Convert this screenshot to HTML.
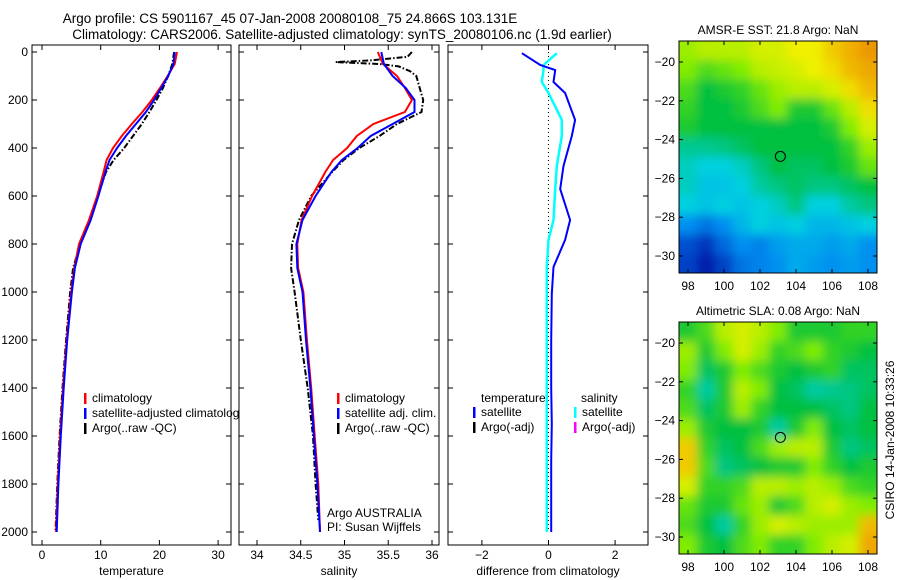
<!DOCTYPE html>
<html><head><meta charset="utf-8"><style>
html,body{margin:0;padding:0;background:#fff;}
svg{display:block;font-family:"Liberation Sans",sans-serif;}
</style></head><body>
<svg id="c" width="900" height="580" viewBox="0 0 900 580" xmlns="http://www.w3.org/2000/svg">
<defs>
<filter id="bl" x="-10%" y="-10%" width="120%" height="120%"><feGaussianBlur stdDeviation="5"/></filter>
<clipPath id="cm1"><rect x="679" y="41" width="198" height="232"/></clipPath>
<clipPath id="cm2"><rect x="679" y="322" width="198" height="232"/></clipPath>
</defs>
<text x="290" y="23" text-anchor="middle" font-size="13.5">Argo profile: CS 5901167_45 07-Jan-2008 20080108_75 24.866S 103.131E</text>
<text x="342" y="39" text-anchor="middle" font-size="13.5">Climatology: CARS2006. Satellite-adjusted climatology: synTS_20080106.nc (1.9d earlier)</text>
</svg>
<script>
// depth grid (m)
const depths=[0,50,100,150,200,250,300,350,400,450,500,600,700,800,900,1000,1200,1400,1600,1800,2000];
const tempClim=[23,22.6,21.4,20.1,18.7,17.1,15.3,13.6,12.1,11.0,10.5,9.4,8.0,6.3,5.5,5.0,4.2,3.6,3.1,2.7,2.4];
const tempSat=[22.6,22.4,21.5,20.3,19.1,17.7,16.0,14.3,12.8,11.5,10.8,9.6,8.3,6.6,5.6,5.1,4.3,3.7,3.2,2.8,2.5];
const tempArgo=[22.5,22.2,21.5,20.6,19.5,18.3,17.0,15.5,14.0,12.2,10.9,9.5,8.1,6.5,5.3,4.8,4.1,3.5,3.0,2.6,2.3];
const salClim=[35.38,35.44,35.6,35.69,35.77,35.69,35.33,35.14,35.03,34.87,34.78,34.63,34.51,34.46,34.47,34.53,34.57,34.62,34.66,34.7,34.72];
const salSat=[35.42,35.45,35.55,35.7,35.8,35.8,35.55,35.3,35.15,34.97,34.85,34.67,34.52,34.45,34.46,34.52,34.56,34.61,34.65,34.69,34.72];
const salArgoDepths=[0,20,35,42,50,60,80,100,150,200,250,300,350,400,450,500,600,700,800,900,1000,1200,1400,1600,1800,1950];
const salArgo=[35.77,35.72,35.3,34.9,35.4,35.62,35.75,35.82,35.86,35.9,35.88,35.6,35.4,35.17,34.99,34.86,34.62,34.48,34.4,34.39,34.43,34.5,34.58,34.64,34.67,34.7];
const diffDepths=[5,54,75,125,171,283,350,475,571,700,783,896,1008,1200,1400,1550,1700,2000];
const diffTemp=[-0.8,-0.25,0.2,0.15,0.5,0.8,0.7,0.45,0.35,0.65,0.5,0.15,0.1,0.08,0.08,0.1,0.08,0.08];
const diffSal=[0.25,-0.15,-0.15,-0.2,0,0.4,0.4,0.25,0.2,0.15,0,-0.05,-0.05,-0.05,-0.05,-0.05,-0.05,-0.05];
const depthTicks=[0,200,400,600,800,1000,1200,1400,1600,1800,2000];
const tempTicks=[0,10,20,30];
const salTicks=[34,34.5,35,35.5,36];
const diffTicks=[-2,0,2];
const latTicks=[-20,-22,-24,-26,-28,-30];
const lonTicks=[98,100,102,104,106,108];
const sst=[
[.72,.74,.74,.74,.76,.76,.78,.78,.82,.85,.88],
[.70,.66,.68,.70,.74,.75,.76,.78,.80,.84,.86],
[.66,.60,.62,.64,.68,.72,.74,.74,.76,.80,.84],
[.64,.60,.60,.62,.66,.70,.62,.62,.68,.74,.80],
[.62,.60,.60,.60,.60,.60,.60,.60,.62,.70,.76],
[.55,.55,.56,.58,.60,.60,.60,.60,.60,.64,.72],
[.52,.50,.50,.52,.56,.60,.58,.58,.60,.62,.68],
[.52,.48,.48,.50,.54,.56,.58,.56,.56,.58,.60],
[.50,.48,.50,.48,.50,.52,.56,.50,.50,.54,.56],
[.40,.36,.40,.46,.50,.48,.50,.46,.46,.48,.50],
[.30,.26,.34,.40,.38,.42,.44,.44,.42,.44,.40],
[.28,.22,.28,.36,.38,.40,.44,.42,.40,.42,.40]];
const sla=[
[.62,.66,.74,.76,.74,.70,.62,.62,.62,.64,.64],
[.72,.62,.70,.76,.72,.64,.66,.70,.64,.62,.60],
[.70,.58,.62,.70,.66,.62,.60,.62,.64,.58,.58],
[.64,.54,.62,.74,.70,.60,.58,.54,.55,.56,.58],
[.66,.58,.62,.72,.64,.60,.60,.60,.58,.56,.60],
[.72,.62,.60,.60,.62,.54,.62,.70,.60,.58,.60],
[.82,.64,.58,.60,.66,.72,.74,.74,.62,.56,.58],
[.82,.66,.56,.58,.60,.62,.62,.70,.64,.60,.62],
[.76,.64,.64,.66,.74,.74,.72,.74,.72,.66,.64],
[.68,.62,.62,.68,.72,.62,.66,.74,.76,.72,.70],
[.66,.60,.54,.64,.72,.76,.74,.72,.72,.72,.84],
[.70,.62,.60,.66,.70,.64,.64,.70,.74,.76,.86]];

const S=document.getElementById('c');
const NS='http://www.w3.org/2000/svg';
function mk(t,a,p){const e=document.createElementNS(NS,t);for(const k in a)e.setAttribute(k,a[k]);(p||S).appendChild(e);return e;}
const yD=d=>52+d*0.24;
const topY=45,botY=545;
function panel(x0,x1,xs,ticks,fmt,label,name){
  const g=mk('g',{});
  
  
  mk('rect',{x:x0,y:topY,width:x1-x0,height:botY-topY,fill:'#fff',stroke:'#000','stroke-width':1},g);
  ticks.forEach(v=>{const x=xs(v);
    mk('line',{x1:x,x2:x,y1:topY,y2:topY+5,stroke:'#000'},g);
    mk('line',{x1:x,x2:x,y1:botY,y2:botY-5,stroke:'#000'},g);
    const t=mk('text',{x:x,y:botY+14,'text-anchor':'middle','font-size':12},g);t.textContent=fmt(v);
    
    });
  depthTicks.forEach(d=>{const y=yD(d);
    mk('line',{x1:x0,x2:x0+5,y1:y,y2:y,stroke:'#000'},g);
    mk('line',{x1:x1,x2:x1-5,y1:y,y2:y,stroke:'#000'},g);});
  const l=mk('text',{x:(x0+x1)/2,y:575,'text-anchor':'middle','font-size':12},g);l.textContent=label;
  
  
  return g;
}
function line(xs,vals,ds,col,w,dash,p,name){
  const pts=vals.map((v,i)=>xs(v).toFixed(1)+','+yD(ds[i]).toFixed(1)).join(' ');
  const e=mk('polyline',{points:pts,fill:'none',stroke:col,'stroke-width':w},p);
  if(dash)e.setAttribute('stroke-dasharray',dash);
  
  
}
function legend(x,y,items,p){items.forEach((it,i)=>{
  mk('rect',{x:x,y:y+i*15-9,width:2.5,height:11,fill:it[1]},p);
  const t=mk('text',{x:x+8,y:y+i*15,'font-size':12},p);t.textContent=it[0];
  
  });}
// panel 1
const xT=v=>42+v*5.87;
const g1=panel(32,231,xT,tempTicks,v=>v,'temperature','temperature-panel');
line(xT,tempArgo,depths,'#000',2,'6,2,1.5,2',g1,'argo-temperature-line');
line(xT,tempClim,depths,'#f00',2,null,g1,'climatology-temperature-line');
line(xT,tempSat,depths,'#00f',2,null,g1,'satellite-temperature-line');
legend(84,402,[['climatology','#f00'],['satellite-adjusted climatology','#00f'],['Argo(..raw -QC)','#000']],g1);
depthTicks.forEach(d=>{const t=mk('text',{x:28,y:yD(d)+4,'text-anchor':'end','font-size':12});t.textContent=d;
  
  });
// panel 2
const xS=v=>257+(v-34)*87.5;
const g2=panel(239,439,xS,salTicks,v=>v,'salinity','salinity-panel');
line(xS,salArgo,salArgoDepths,'#000',2,'6,2,1.5,2',g2,'argo-salinity-line');
line(xS,salClim,depths,'#f00',2,null,g2,'climatology-salinity-line');
line(xS,salSat,depths,'#00f',2,null,g2,'satellite-salinity-line');
legend(337,402,[['climatology','#f00'],['satellite adj. clim.','#00f'],['Argo(..raw -QC)','#000']],g2);
let t=mk('text',{x:327,y:517,'font-size':12},g2);t.textContent='Argo AUSTRALIA';


t=mk('text',{x:327,y:531,'font-size':12},g2);t.textContent='PI: Susan Wijffels';


// panel 3
const xDf=v=>548.5+v*33.3;
const g3=panel(448,648,xDf,diffTicks,v=>v===0?'0':(v<0?'−'+(-v):v),'difference from climatology','difference-panel');
mk('line',{x1:xDf(0),x2:xDf(0),y1:52,y2:532,stroke:'#000','stroke-dasharray':'1,3'},g3);
line(xDf,diffSal,diffDepths,'#0ff',2.5,null,g3,'salinity-difference-line');
line(xDf,diffTemp,diffDepths,'#00f',2,null,g3,'temperature-difference-line');
t=mk('text',{x:481,y:402,'font-size':12},g3);t.textContent='temperature';


t=mk('text',{x:581,y:402,'font-size':12},g3);t.textContent='salinity';


legend(473,416,[['satellite','#00f'],['Argo(-adj)','#000']],g3);
legend(574,416,[['satellite','#0ff'],['Argo(-adj)','#f0f']],g3);
// maps
const stops=[[0.2,[0,16,160]],[0.3,[0,80,208]],[0.4,[0,144,240]],[0.5,[0,208,224]],[0.6,[0,192,64]],[0.7,[128,236,0]],[0.78,[240,240,0]],[0.85,[240,176,0]],[0.95,[224,96,0]]];
function cmap(v){if(v<=stops[0][0])return 'rgb('+stops[0][1]+')';
  for(let i=1;i<stops.length;i++){if(v<=stops[i][0]){const a=stops[i-1],b=stops[i],f=(v-a[0])/(b[0]-a[0]);
    return 'rgb('+a[1].map((c,k)=>Math.round(c+(b[1][k]-c)*f)).join(',')+')';}}
  return 'rgb('+stops[stops.length-1][1]+')';}
function map(grid,y0,title,clip,name){
  const g=mk('g',{});
  
  
  const xL=v=>688+(v-98)*18, yL=v=>(y0+21)+(-20-v)*19.4;
  const cg=mk('g',{'clip-path':'url(#'+clip+')'},g);
  const bg=mk('g',{filter:'url(#bl)'},cg);
  const cw=198/11,ch=232/12;
  grid.forEach((row,r)=>row.forEach((v,c)=>{
    let x=679+c*cw,y=y0+r*ch,w=cw+0.5,h=ch+0.5;
    if(c===0){x-=12;w+=12;} if(c===10)w+=12; if(r===0){y-=12;h+=12;} if(r===11)h+=12;
    const e=mk('rect',{x:x,y:y,width:w,height:h,fill:cmap(v)},bg);
    
    }));
  mk('rect',{x:679,y:y0,width:198,height:232,fill:'none',stroke:'#000'},g);
  lonTicks.forEach(v=>{const x=xL(v);
    mk('line',{x1:x,x2:x,y1:y0,y2:y0+4,stroke:'#000'},g);
    mk('line',{x1:x,x2:x,y1:y0+232,y2:y0+228,stroke:'#000'},g);
    const tt=mk('text',{x:x,y:y0+249,'text-anchor':'middle','font-size':12},g);tt.textContent=v;
    
    });
  latTicks.forEach(v=>{const y=yL(v);
    mk('line',{x1:679,x2:683,y1:y,y2:y,stroke:'#000'},g);
    mk('line',{x1:877,x2:873,y1:y,y2:y,stroke:'#000'},g);
    const tt=mk('text',{x:675,y:y+4,'font-size':12,'text-anchor':'end'},g);tt.textContent='−'+(-v);
    
    });
  const m=mk('circle',{cx:xL(103.131),cy:yL(-24.866),r:5,fill:'none',stroke:'#000'},g);
  
  
  const tt=mk('text',{x:778,y:y0-7,'text-anchor':'middle','font-size':12},g);tt.textContent=title;
  
  
}
map(sst,41,'AMSR-E SST: 21.8 Argo: NaN','cm1','sst-map');
map(sla,322,'Altimetric SLA: 0.08 Argo: NaN','cm2','sla-map');
t=mk('text',{x:0,y:0,'font-size':12,'text-anchor':'middle',transform:'translate(894,440) rotate(-90)'});t.textContent='CSIRO 14-Jan-2008 10:33:26';


</script>
</body></html>
